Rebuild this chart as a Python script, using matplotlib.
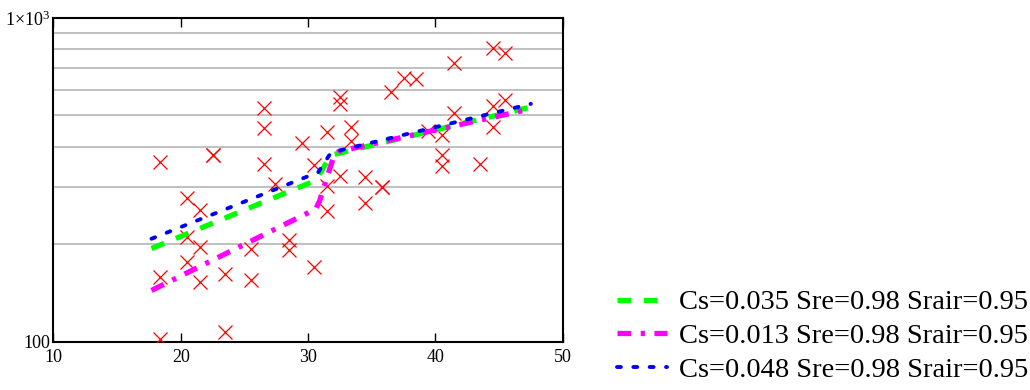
import numpy as np
import matplotlib
matplotlib.use("Agg")
import matplotlib.pyplot as plt

plt.rcParams['font.family'] = ['Liberation Serif', 'DejaVu Serif']
plt.rcParams['mathtext.fontset'] = 'custom'
plt.rcParams['mathtext.rm'] = 'Liberation Serif'

# measured points (red crosses)
meas_x = [18.4, 18.4, 18.4, 20.5, 20.5, 20.5, 21.5, 21.5, 21.5, 22.5, 22.5,
          23.5, 23.5, 25.5, 25.5, 26.5, 26.5, 26.5, 27.4, 28.5, 28.5, 29.5,
          30.5, 30.5, 31.5, 31.5, 31.5, 32.5, 32.5, 32.5, 33.4, 33.4, 34.5,
          34.5, 35.8, 35.8, 36.5, 37.5, 38.5, 39.4, 40.5, 40.5, 40.5, 41.5,
          41.5, 43.5, 44.5, 44.5, 44.5, 45.5, 45.5]
meas_y = [358, 159, 102, 278, 211, 176, 255, 196, 153, 377, 377,
          162, 107, 193, 155, 527, 457, 355, 307, 206, 192, 412,
          351, 170, 445, 303, 253, 571, 541, 326, 459, 418, 323,
          269, 301, 301, 592, 653, 646, 448, 435, 377, 350, 727,
          510, 354, 806, 533, 460, 781, 558]

# model curves
green_x = [17.7, 30.6, 31.8, 47.5]
green_y = [194, 315, 377, 531]
magenta_x = [17.7, 30.6, 30.9, 32.0, 32.4, 47.5]
magenta_y = [144, 257, 272, 372, 387, 524]
blue_x = [17.7, 30.8, 31.8, 47.5]
blue_y = [208, 334, 384, 543]

labels = ["Cs=0.035 Sre=0.98 Srair=0.95",
          "Cs=0.013 Sre=0.98 Srair=0.95",
          "Cs=0.048 Sre=0.98 Srair=0.95"]

grid_vals = [200, 300, 400, 500, 600, 700, 800, 900]

fig = plt.figure(figsize=(10.3, 3.9), dpi=100)
ax = fig.add_axes([0.0519, 0.1238, 0.4944, 0.83])

ax.plot(meas_x, meas_y, 'x', color='#ff0000', markersize=9.5, markeredgewidth=0.9, zorder=3)

l1, = ax.plot(green_x, green_y, color='#00ff00', lw=3.8, dashes=(2.6, 2.4),
              dash_capstyle='butt', label=labels[0], zorder=4)
l2, = ax.plot(magenta_x, magenta_y, color='#ff00ff', lw=3.8, dashes=(2.6, 1.8, 0.8, 1.8),
              dash_capstyle='butt', label=labels[1], zorder=5)
l3, = ax.plot(blue_x, blue_y, color='#0000ff', lw=2.8, dashes=(1.0, 3.2),
              dash_capstyle='round', label=labels[2], zorder=6)

ax.set_yscale('log')
ax.set_xlim(10, 50)
ax.set_ylim(100, 1000)
ax.set_yticks([100, 1000])
ax.set_yticklabels(['100', r'$\mathregular{1×10^3}$'])
ax.set_yticks(grid_vals, minor=True)
ax.set_yticklabels([''] * len(grid_vals), minor=True)
ax.yaxis.grid(True, which='minor', color='#c0c0c0', lw=1.4)
ax.tick_params(axis='y', which='both', length=0, pad=2, labelsize=13)

ax.set_xticks([10, 20, 30, 40, 50])
ax.tick_params(axis='x', direction='in', top=True, length=6.5, width=1,
               pad=5, labelsize=13)

for s in ax.spines.values():
    s.set_linewidth(1.5)

fig.legend(handles=[l1, l2, l3], loc='lower right', bbox_to_anchor=(1.009, -0.012),
           frameon=False, fontsize=20.5, handlelength=1.75, handletextpad=0.4,
           labelspacing=0.28, borderaxespad=0.0)

fig.savefig('out.png', dpi=100)
